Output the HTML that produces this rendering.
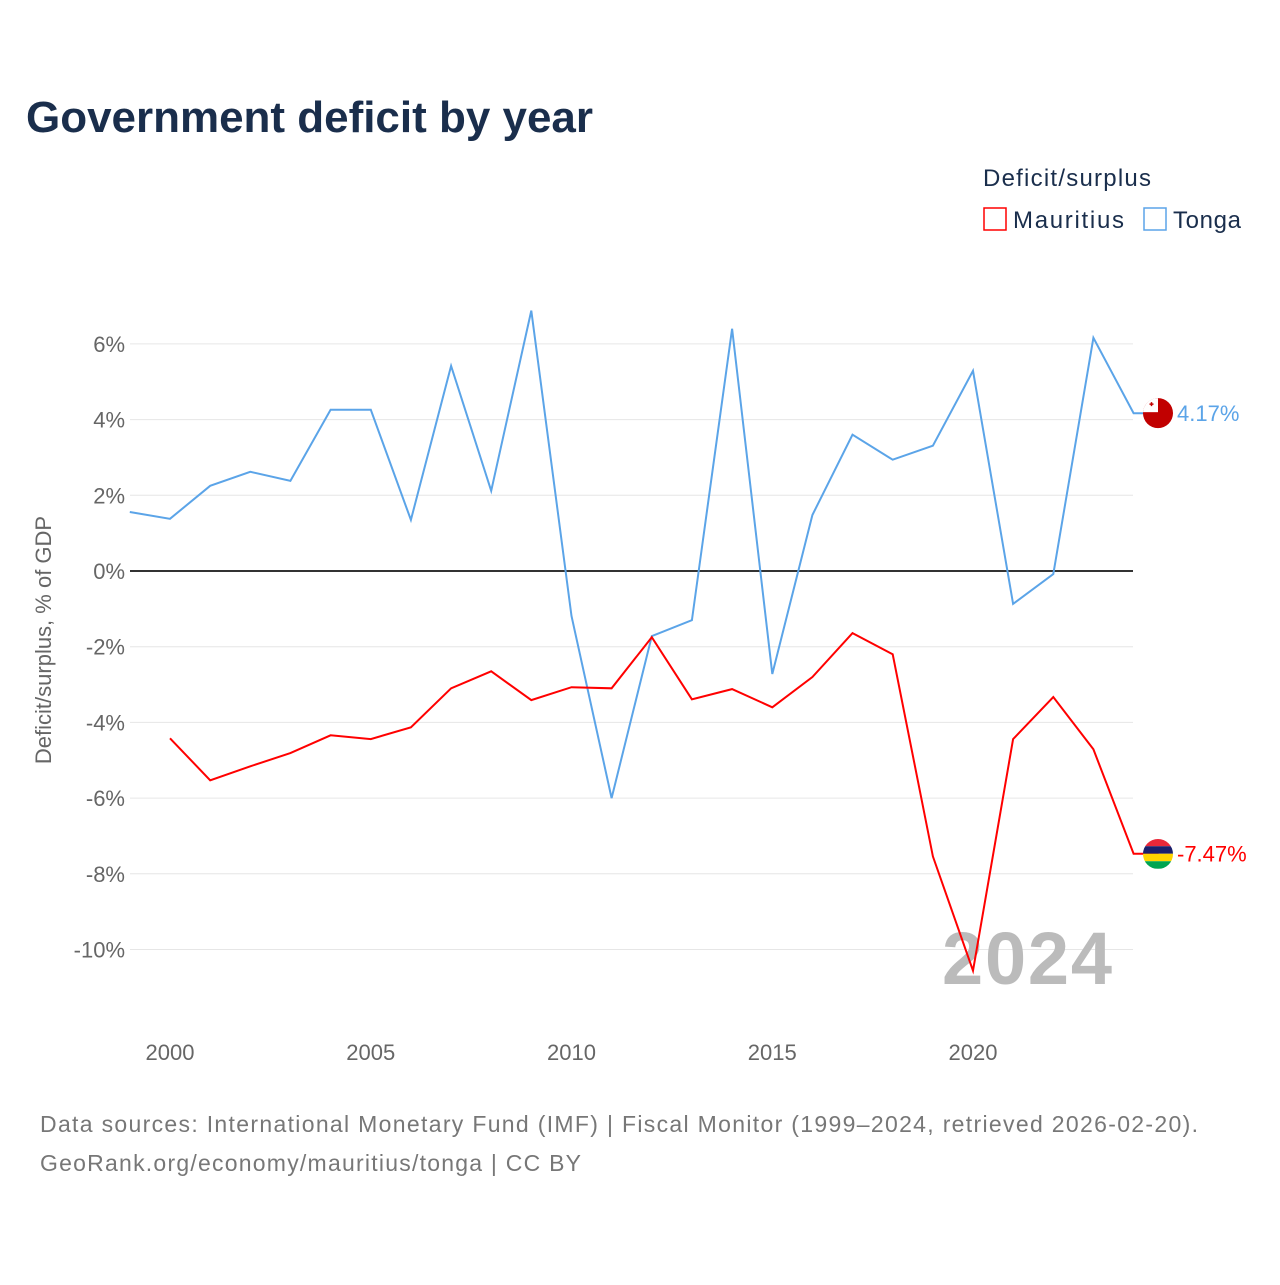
<!DOCTYPE html>
<html><head><meta charset="utf-8"><style>
body{margin:0;background:#fff;font-family:"Liberation Sans",sans-serif}
svg text{font-family:"Liberation Sans",sans-serif}
</style></head><body>
<svg id="chart" width="1280" height="1280" xmlns="http://www.w3.org/2000/svg">
<defs><clipPath id="tc"><circle cx="1158" cy="413" r="15"/></clipPath><clipPath id="mc"><circle cx="1158" cy="854" r="15"/></clipPath></defs>
<text x="26" y="132" font-size="44" font-weight="bold" fill="#1a2e4c" textLength="567">Government deficit by year</text>
<text x="983" y="186" font-size="24" fill="#1a2e4c" textLength="168">Deficit/surplus</text>
<g><rect x="984" y="208" width="22" height="22" fill="none" stroke="#ff0000" stroke-width="1.5"/><text x="1013" y="228" font-size="24" fill="#1a2e4c" textLength="111">Mauritius</text></g>
<g><rect x="1144" y="208" width="22" height="22" fill="none" stroke="#5ba4e8" stroke-width="1.5"/><text x="1173" y="228" font-size="24" fill="#1a2e4c" textLength="68">Tonga</text></g>
<text transform="translate(51,640) rotate(-90)" text-anchor="middle" font-size="22" fill="#666">Deficit/surplus, % of GDP</text>
<g id="grid"></g><g id="ylabels"></g><g id="xlabels"></g>
<text x="942" y="984" font-size="74" font-weight="bold" fill="#bbb" textLength="170">2024</text>
<g id="series"></g>
<text x="40" y="1132" font-size="23" fill="#777" textLength="1158">Data sources: International Monetary Fund (IMF) | Fiscal Monitor (1999–2024, retrieved 2026-02-20).</text>
<text x="40" y="1171" font-size="23" fill="#777" textLength="541">GeoRank.org/economy/mauritius/tonga | CC BY</text>
</svg>
<script>
const years=[1999,2000,2001,2002,2003,2004,2005,2006,2007,2008,2009,2010,2011,2012,2013,2014,2015,2016,2017,2018,2019,2020,2021,2022,2023,2024];
const tonga=[1.56,1.38,2.25,2.62,2.38,4.26,4.26,1.35,5.42,2.12,6.88,-1.19,-6.0,-1.72,-1.3,6.4,-2.72,1.48,3.6,2.94,3.31,5.29,-0.87,-0.08,6.16,4.17];
const mauritius=[null,-4.42,-5.53,-5.16,-4.81,-4.34,-4.44,-4.13,-3.1,-2.65,-3.41,-3.07,-3.1,-1.75,-3.39,-3.12,-3.6,-2.8,-1.64,-2.2,-7.54,-10.56,-4.44,-3.33,-4.71,-7.47];
const yTicks=[6,4,2,0,-2,-4,-6,-8,-10];
const xTicks=[2000,2005,2010,2015,2020];
const NS="http://www.w3.org/2000/svg";
const x=v=>170+(v-2000)*40.15;
const y=v=>571-v*37.85;
function el(t,a,p){const e=document.createElementNS(NS,t);for(const k in a)e.setAttribute(k,a[k]);p.appendChild(e);return e;}
const grid=document.getElementById('grid'),yl=document.getElementById('ylabels'),xl=document.getElementById('xlabels'),ser=document.getElementById('series');
yTicks.forEach(t=>{
 const l=el('line',{x1:130,x2:1133,y1:y(t),y2:y(t),stroke:t===0?'#333':'#e6e6e6','stroke-width':t===0?2:1},grid);
 
 
 const tx=el('text',{x:125,y:y(t)+8,'text-anchor':'end','font-size':22,fill:'#666'},yl);
 tx.textContent=t+'%';
 
 
});
xTicks.forEach(t=>{
 const tx=el('text',{x:x(t),y:1060,'text-anchor':'middle','font-size':22,fill:'#666'},xl);
 tx.textContent=t;
 
 
});
function line(vals,color,name){
 let d='';vals.forEach((v,i)=>{if(v===null)return;d+=(d?'L':'M')+x(years[i]).toFixed(1)+' '+y(v).toFixed(1);});
 const last=vals[vals.length-1];
 d+='L'+(x(2024)+25)+' '+y(last).toFixed(1);
 const p=el('path',{d:d,fill:'none',stroke:color,'stroke-width':2},ser);
 
 
 return last;
}
const lt=line(tonga,'#5ba4e8','tonga');
const lm=line(mauritius,'#ff0000','mauritius');
const ft=el('circle',{cx:1158,cy:y(lt),r:15,fill:'#c10000'},ser);


const fc=el('rect',{x:1143,y:y(lt)-15,width:15,height:14,fill:'#fff','clip-path':'url(#tc)'},ser);


const cr=el('path',{d:'M1149.5 '+(y(lt)-9)+'h4M1151.5 '+(y(lt)-11)+'v4',stroke:'#c10000','stroke-width':1.5},ser);


const lblT=el('text',{x:1177,y:y(lt)+8,'font-size':22,fill:'#5ba4e8'},ser);
lblT.textContent=lt.toFixed(2)+'%';


const cols=['#ea2839','#1a206d','#ffd500','#00a551'];
cols.forEach((c,i)=>{
 const r=el('rect',{x:1143,y:y(lm)-15+i*7.5,width:30,height:7.5,fill:c,'clip-path':'url(#mc)'},ser);
 
 
});
const lblM=el('text',{x:1177,y:y(lm)+8,'font-size':22,fill:'#ff0000'},ser);
lblM.textContent=lm.toFixed(2)+'%';


</script>
</body></html>
